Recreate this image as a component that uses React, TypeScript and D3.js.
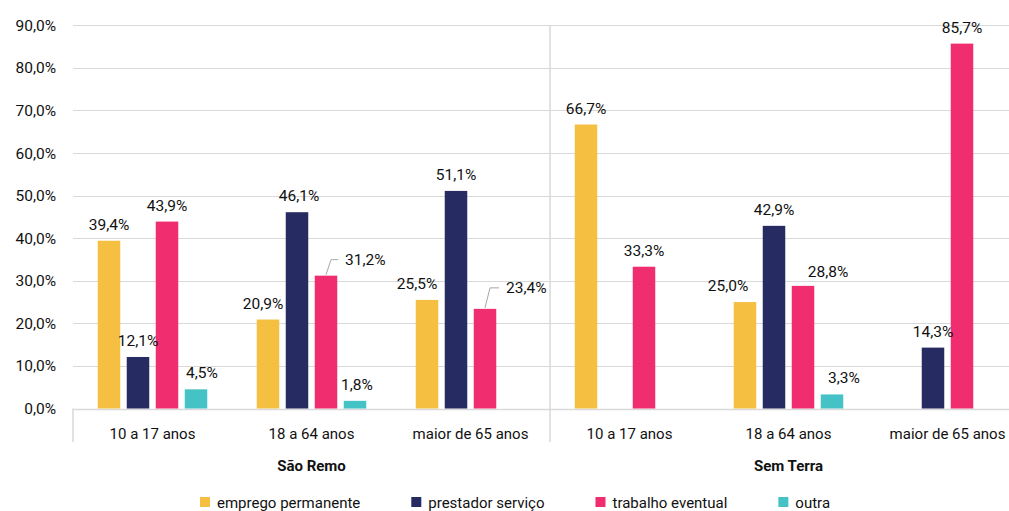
import React, { useEffect, useRef } from 'react';
import * as d3 from 'd3';

// Two localities, three age bands each
const groups = ['São Remo', 'Sem Terra'];
const ageBands = ['10 a 17 anos', '18 a 64 anos', 'maior de 65 anos'];
const seriesNames = ['emprego permanente', 'prestador serviço', 'trabalho eventual', 'outra'];

// values per slot: São Remo x3, then Sem Terra x3 (null = no bar)
const empregoPermanente = [39.4, 20.9, 25.5, 66.7, 25.0, null];
const prestadorServico = [12.1, 46.1, 51.1, null, 42.9, 14.3];
const trabalhoEventual = [43.9, 31.2, 23.4, 33.3, 28.8, 85.7];
const outra = [4.5, 1.8, null, null, 3.3, null];

const yTicks = [0, 10, 20, 30, 40, 50, 60, 70, 80, 90];

const colors = ['#F5BF42', '#262B61', '#EF2D6F', '#45C2C5'];

const W = 1009;
const H = 511;
const FONT = 'Roboto, "DejaVu Sans", sans-serif';
const TEXT = '#111111';

const fmt = (v: number) => v.toFixed(1).replace('.', ',') + '%';

export default function App() {
  const svgRef = useRef<SVGSVGElement>(null);

  useEffect(() => {
    document.body.style.margin = '0';
    if (!svgRef.current) return;
    const svg = d3.select(svgRef.current);
    svg.selectAll('*').remove();

    const series = [empregoPermanente, prestadorServico, trabalhoEventual, outra];
    const slots = groups.flatMap(g => ageBands.map(a => `${g}|${a}`));

    const left = 73;
    const right = 1027;
    const x0 = d3.scaleBand<string>().domain(slots).range([left, right]).padding(0);
    const x1 = d3.scaleBand<number>()
      .domain(d3.range(seriesNames.length))
      .range([0, x0.bandwidth()])
      .paddingInner(0.224)
      .paddingOuter(0.853);
    const y = d3.scaleLinear().domain([0, 90]).range([408.5, 25.3]);

    // gridlines
    svg.append('g')
      .selectAll('line')
      .data(yTicks)
      .join('line')
      .attr('x1', left)
      .attr('x2', W)
      .attr('y1', d => Math.round(y(d)) + 0.5)
      .attr('y2', d => Math.round(y(d)) + 0.5)
      .attr('stroke', '#D9D9D9')
      .attr('stroke-width', d => (d === 0 ? 1.5 : 1.2));

    // y tick labels
    svg.append('g')
      .selectAll('text')
      .data(yTicks)
      .join('text')
      .attr('x', 56)
      .attr('y', d => y(d) + 5.5)
      .attr('text-anchor', 'end')
      .attr('font-family', FONT)
      .attr('font-size', 15.5)
      .attr('fill', TEXT)
      .text(d => fmt(d));

    // group separators
    const sep = svg.append('g').attr('stroke', '#D9D9D9').attr('stroke-width', 1.5);
    sep.append('line').attr('x1', left).attr('x2', left).attr('y1', y(0)).attr('y2', 442);
    const mid = x0(slots[3]) as number;
    sep.append('line').attr('x1', mid).attr('x2', mid).attr('y1', y(90)).attr('y2', 442);

    // bars
    const bars: { slot: number; s: number; v: number }[] = [];
    series.forEach((arr, s) => arr.forEach((v, slot) => {
      if (v != null) bars.push({ slot, s, v });
    }));
    const bx = (d: { slot: number; s: number }) => (x0(slots[d.slot]) as number) + (x1(d.s) as number);

    svg.append('g')
      .selectAll('rect')
      .data(bars)
      .join('rect')
      .attr('x', d => bx(d))
      .attr('y', d => y(d.v))
      .attr('width', x1.bandwidth())
      .attr('height', d => y(0) - y(d.v))
      .attr('fill', d => colors[d.s]);

    // label tweaks, as Excel placed them
    const nudge: Record<string, [number, number]> = {
      '0|3': [6, 0],
      '1|0': [-5, 0],
      '1|1': [2, 0],
      '1|3': [2, 0],
      '2|0': [-10, 0],
      '4|0': [-17, 0],
      '4|2': [25, 2],
      '4|3': [12, 0],
    };
    const leader: Record<string, [number, number]> = {
      '1|2': [-16, 19],
      '2|2': [-21, 21],
    };

    const lg = svg.append('g')
      .attr('font-family', FONT)
      .attr('font-size', 15.5)
      .attr('fill', TEXT);

    bars.forEach(d => {
      const key = `${d.slot}|${d.s}`;
      const cx = bx(d) + x1.bandwidth() / 2;
      const top = y(d.v);
      if (leader[key]) {
        const [dy, dx] = leader[key];
        const ly = top + dy;
        svg.append('polyline')
          .attr('points', `${cx},${top - 1} ${cx + 5},${ly} ${cx + dx - 7},${ly}`)
          .attr('fill', 'none')
          .attr('stroke', '#A6A6A6')
          .attr('stroke-width', 1);
        lg.append('text')
          .attr('x', cx + dx)
          .attr('y', ly + 5.5)
          .attr('text-anchor', 'start')
          .text(fmt(d.v));
      } else {
        const [dx, dy] = nudge[key] || [0, 0];
        lg.append('text')
          .attr('x', cx + dx)
          .attr('y', top - 11 + dy)
          .attr('text-anchor', 'middle')
          .text(fmt(d.v));
      }
    });

    // category labels
    svg.append('g')
      .selectAll('text')
      .data(slots)
      .join('text')
      .attr('x', d => (x0(d) as number) + x0.bandwidth() / 2)
      .attr('y', 438.5)
      .attr('text-anchor', 'middle')
      .attr('font-family', FONT)
      .attr('font-size', 15)
      .attr('fill', TEXT)
      .text(d => d.split('|')[1]);

    // group labels
    svg.append('g')
      .selectAll('text')
      .data(groups)
      .join('text')
      .attr('x', (g, i) => {
        const a = x0(slots[i * 3]) as number;
        return a + x0.bandwidth() * 1.5;
      })
      .attr('y', 471)
      .attr('text-anchor', 'middle')
      .attr('font-family', FONT)
      .attr('font-size', 15)
      .attr('font-weight', 'bold')
      .attr('fill', TEXT)
      .text(d => d);

    // legend
    const legend = svg.append('g').attr('transform', 'translate(200,0)');
    let cursor = 0;
    seriesNames.forEach((name, i) => {
      const item = legend.append('g').attr('transform', `translate(${cursor},0)`);
      item.append('rect')
        .attr('x', 0)
        .attr('y', 497)
        .attr('width', 10)
        .attr('height', 10)
        .attr('fill', colors[i]);
      const t = item.append('text')
        .attr('x', 17)
        .attr('y', 508)
        .attr('font-family', FONT)
        .attr('font-size', 15)
        .attr('fill', TEXT)
        .text(name);
      const w = (t.node() as SVGTextElement).getComputedTextLength();
      cursor += 17 + w + 51;
    });
  }, []);

  return <svg ref={svgRef} width={W} height={H} style={{ display: 'block', background: '#fff' }} />;
}
